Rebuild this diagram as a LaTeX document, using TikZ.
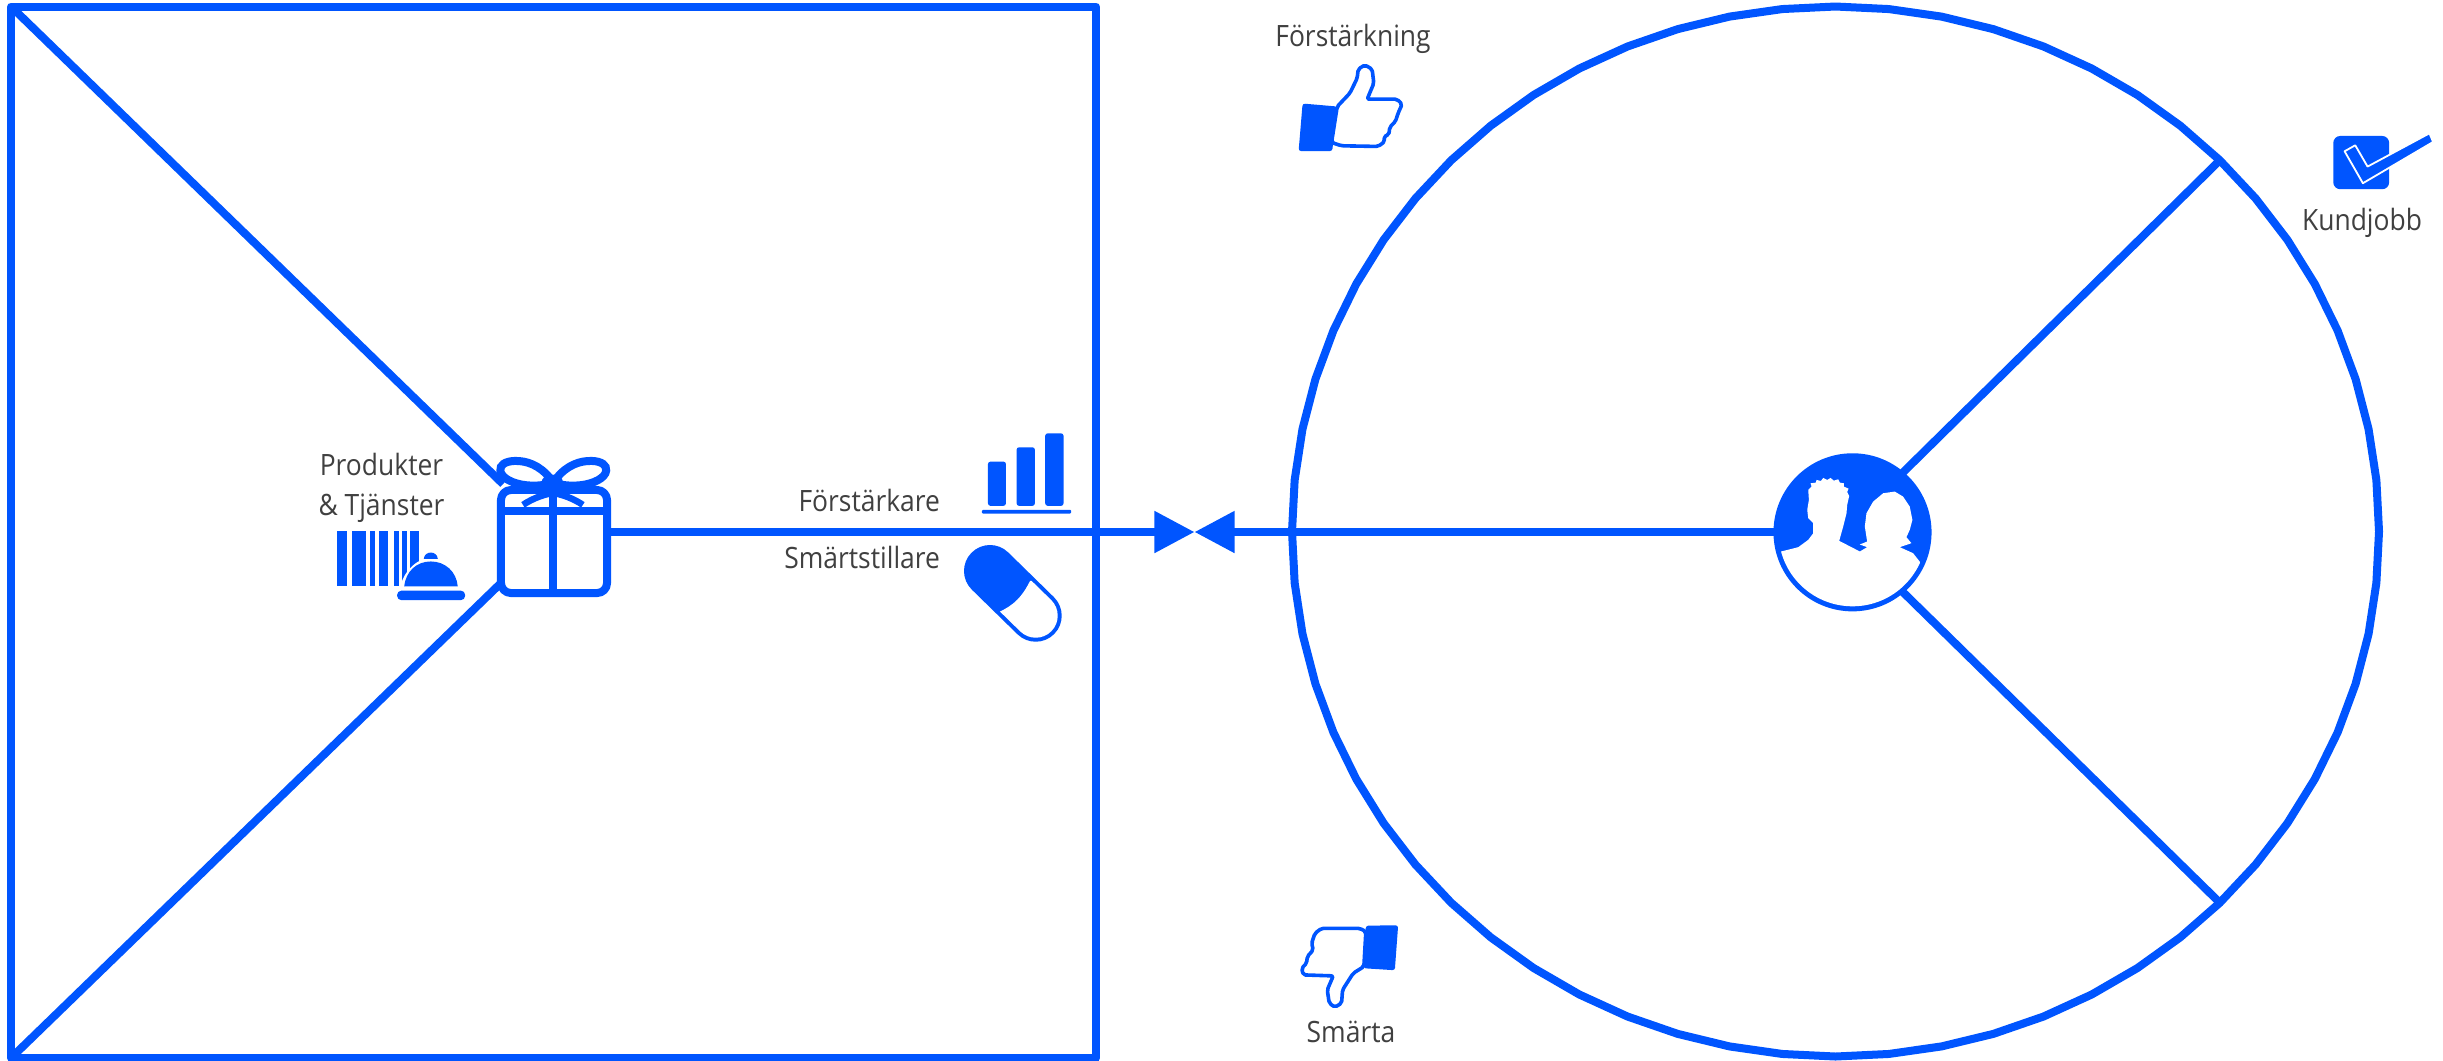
\documentclass[tikz,border=0pt]{standalone}
\usepackage{fontspec}
\setmainfont[FakeStretch=0.9]{Open Sans}
\usetikzlibrary{arrows.meta,calc}
\definecolor{vpblue}{HTML}{0055FF}
\definecolor{vptext}{HTML}{404040}
\tikzset{
  conn/.style={draw=vpblue,line width=0.08cm,line join=round},
  arrowconn/.style={conn,-{Triangle[length=0.40cm,width=0.40cm]}},
  lbl/.style={text=vptext,inner sep=0pt,outer sep=0pt,font=\fontsize{8.35pt}{10pt}\selectfont},
  thin icon/.style={draw=vpblue,line width=0.036cm,line join=round,rounded corners=0.02cm,fill=white},
  zoomed/.style={x=0.003333cm,y=-0.003333cm}
}
\begin{document}
\begin{tikzpicture}[x=0.01cm,y=-0.01cm]
\useasboundingbox (0,0) rectangle (2443,1060);
\fill[white] (0,0) rectangle (2443,1060);

% named points
\coordinate (tl) at (11,6.5);
\coordinate (tr) at (1096,6.5);
\coordinate (br) at (1096,1058);
\coordinate (bl) at (11,1058);
\coordinate (mid) at (1194.5,532);
\coordinate (gu) at (503,484);
\coordinate (gl) at (501,583);
\coordinate (cu) at ({1835.5+543.5*cos(45)},{531.5-525*sin(45)});
\coordinate (cl) at ({1835.5+543.5*cos(45)},{531.5+525*sin(45)});

% square and big circle
\draw[conn] (tl) -- (tr) -- (br) -- (bl) -- cycle;
\draw[conn] plot[domain=0:360,samples=65] ({1835.5+543.5*cos(\x)},{531.5+525*sin(\x)}) -- cycle;

% diagonals
\draw[conn] (tl) -- (gu);
\draw[conn] (bl) -- (gl);

% gift
\node[conn,fill=white,rounded corners=0.1cm,minimum width=1.06cm,minimum height=1.03cm,inner sep=0pt,outer sep=0pt] (gift) at (554,541.5) {};
\begin{scope}[shift={(300,420)},zoomed]
  \draw[vpblue,line width=0.08cm] (604,272) -- (918,272);
  \draw[vpblue,line width=0.08cm] (760,190) -- (760,510);
  \draw[vpblue,line width=0.065cm] (670,255) .. controls (700,235) and (730,225) .. (755,220);
  \draw[vpblue,line width=0.065cm] (850,255) .. controls (820,235) and (790,225) .. (765,220);
  \draw[vpblue,fill=white,line width=0.08cm] (752,176) .. controls (720,135) and (680,122) .. (645,123) .. controls (615,124) and (600,136) .. (602,152) .. controls (604,174) and (640,192) .. (680,196) .. controls (710,199) and (740,196) .. (755,188);
  \draw[vpblue,fill=white,line width=0.08cm] (770,176) .. controls (802,135) and (842,122) .. (877,123) .. controls (907,124) and (922,136) .. (920,152) .. controls (918,174) and (882,192) .. (842,196) .. controls (812,199) and (782,196) .. (767,188);
  \fill[vpblue] (758,186) ellipse (32 and 22);
  % barcode and cloche
  \foreach \a/\b in {111/140,155/197,210/225,237/264,282/298,306/320,332/357}
    \fill[vpblue] (\a,333) rectangle (\b,500);
  \fill[white] (300,510) .. controls (305,465) and (345,415) .. (393,415) .. controls (445,415) and (485,460) .. (485,510) -- cycle;
  \fill[vpblue] (313,500) .. controls (318,455) and (350,425) .. (393,425) .. controls (436,425) and (470,455) .. (474,500) -- cycle;
  \fill[vpblue] (372,417) .. controls (374,392) and (412,392) .. (414,417) -- cycle;
  \fill[vpblue,rounded corners=0.04cm] (292,513) rectangle (496,541);
\end{scope}

% person
\node[conn,line width=0.05cm,fill=vpblue,circle,minimum size=1.53cm,inner sep=0pt,outer sep=0pt] (person) at (1852.5,532.3) {};
\begin{scope}
  \clip (person.center) circle (74);
  \begin{scope}[shift={(1740,440)},zoomed]
    \fill[white] (100,341) -- (175,322) -- (205,300) -- (220,280) -- (220,250) -- (205,235) -- (202,210) -- (207,180) -- (205,150) -- (215,140) -- (212,130) -- (228,128) -- (230,120) -- (243,123) -- (250,114) -- (262,120) -- (272,114) -- (282,122) -- (295,118) -- (300,128) -- (312,130) -- (312,140) -- (326,146) -- (322,156) -- (328,168) -- (322,195) -- (320,220) -- (310,260) -- (298,303) -- (360,335) -- (382,322) -- (360,314) -- (382,305) -- (375,260) -- (380,220) -- (400,185) -- (430,160) -- (465,155) -- (490,170) -- (510,200) -- (518,240) -- (510,270) -- (500,292) -- (515,310) -- (480,322) -- (520,340) -- (542,368) -- (600,500) -- (100,560) -- cycle;
  \end{scope}
\end{scope}

% connectors
\draw[arrowconn] (gift.east |- mid) -- (mid);
\draw[arrowconn] (person.west |- mid) -- (mid);
\draw[conn] (person.50) -- (cu);
\draw[conn] (person.-50) -- (cl);

% labels
\node[lbl,anchor=base] (prod) at (381.5,475) {Produkter};
\node[lbl,anchor=base] (tjan) at (381.5,515) {\&\ Tjänster};
\node[lbl,anchor=base east] (fk) at (940,511.7) {Förstärkare};
\node[lbl,anchor=base east] (sm) at (940,568) {Smärtstillare};
\node[lbl,anchor=base] (fn) at (1353,46.7) {Förstärkning};
\node[lbl,anchor=base] (kj) at (2362,230) {Kundjobb};
\node[lbl,anchor=base] (sa) at (1351,1042.7) {Smärta};

% bars icon
\begin{scope}[shift={(760,410)},zoomed]
  \fill[vpblue,rounded corners=0.025cm] (685,155) rectangle (739,288);
  \fill[vpblue,rounded corners=0.025cm] (771,112) rectangle (826,288);
  \fill[vpblue,rounded corners=0.025cm] (857,70) rectangle (912,288);
  \fill[vpblue,rounded corners=0.01cm] (667,300) rectangle (935,311);
\end{scope}

% pill
\coordinate (pa) at (990,571);
\coordinate (pb) at (1035.7,615.7);
\draw[vpblue,line width=0.52cm,line cap=round] (pa) -- (pb);
\begin{scope}
  \clip (1030,581) .. controls (1022,597) and (1014,605) .. (999,612) -- (1000,680) -- (1100,680) -- (1100,570) -- cycle;
  \draw[white,line width=0.44cm,line cap=round] (pa) -- (pb);
\end{scope}

% thumb up
\begin{scope}[shift={(1250,10)},zoomed]
  \path[thin icon] (262,290) -- (300,250) -- (322,205) -- (325,178) -- (345,165) -- (367,178) -- (372,220) -- (352,268) -- (442,268) -- (457,283) -- (445,310) -- (437,335) -- (420,352) -- (417,375) -- (402,380) -- (405,395) -- (385,410) -- (275,408) -- (245,398) -- cycle;
  \fill[vpblue,rounded corners=0.025cm] (158,281) -- (262,290) -- (247,424) -- (146,424) -- cycle;
\end{scope}

% thumb down
\begin{scope}[shift={(1270,900)},zoomed]
  \path[thin icon] (288,95) -- (270,85) -- (155,85) -- (135,100) -- (125,130) -- (130,150) -- (112,170) -- (110,190) -- (95,205) -- (100,225) -- (190,228) -- (172,270) -- (178,310) -- (195,322) -- (215,310) -- (218,270) -- (250,220) -- (282,200) -- cycle;
  \fill[vpblue,rounded corners=0.025cm] (288,77) -- (385,76) -- (375,211) -- (281,205) -- cycle;
\end{scope}

% check box
\begin{scope}[shift={(2280,110)},zoomed]
  \fill[vpblue,rounded corners=0.07cm] (160,78) rectangle (328,238);
  \draw[white,fill=vpblue,line width=0.018cm,line join=round] (194,124) -- (226,106) -- (263,170) -- (449,70) -- (460,96) -- (249,220) -- cycle;
\end{scope}
\end{tikzpicture}
\end{document}
